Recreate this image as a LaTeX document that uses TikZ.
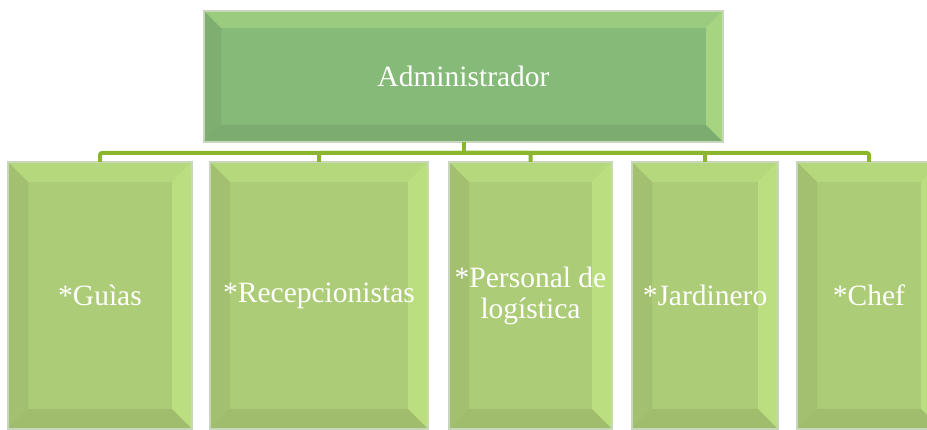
\documentclass[tikz,border=0pt]{standalone}
\usepackage{fontspec}
\setmainfont{Liberation Serif}
\usetikzlibrary{positioning, calc}

\definecolor{topgreen}{RGB}{134,186,120}
\definecolor{boxgreen}{RGB}{173,204,119}
\definecolor{linegreen}{RGB}{140,182,46}
\definecolor{rimgreen}{RGB}{200,214,188}
\definecolor{shinegreen}{RGB}{205,245,140}

\begin{document}
\begin{tikzpicture}[x=1pt, y=1pt,
		bevel/.style={path picture={
				\coordinate (bvSW) at (path picture bounding box.south west);
				\coordinate (bvNE) at (path picture bounding box.north east);
				\coordinate (bvNW) at (path picture bounding box.north west);
				\coordinate (bvSE) at (path picture bounding box.south east);
				\fill[shinegreen, opacity=0.3] (bvNW) -- (bvNE) -- ($(bvNE)+(-#1,-#1)$) -- ($(bvNW)+(#1,-#1)$) -- cycle;
				\fill[black, opacity=0.06] (bvNW) -- ($(bvNW)+(#1,-#1)$) -- ($(bvSW)+(#1,#1)$) -- (bvSW) -- cycle;
				\fill[shinegreen, opacity=0.45] (bvNE) -- ($(bvNE)+(-#1,-#1)$) -- ($(bvSE)+(-#1,#1)$) -- (bvSE) -- cycle;
				\fill[black, opacity=0.07] (bvSW) -- ($(bvSW)+(#1,#1)$) -- ($(bvSE)+(-#1,#1)$) -- (bvSE) -- cycle;
		}},
		headbox/.style={draw=rimgreen, line width=1.5pt, fill=topgreen, bevel=17,
			minimum width=519, minimum height=131, inner sep=0pt, outer sep=0pt,
			text=white, font=\fontsize{29.5}{31}\selectfont},
		staffbox/.style={draw=rimgreen, line width=1.5pt, fill=boxgreen, bevel=20,
			minimum height=267, inner sep=0pt, outer sep=0pt, align=center,
			text=white, font=\fontsize{29.5}{31}\selectfont},
		conn/.style={draw=linegreen, line width=4pt, rounded corners=2pt},
		]
		\useasboundingbox (0,0) rectangle (927,430);
		
		\node[headbox] (admin) at (463.5,353.5) {Administrador};
		
		\node[staffbox, minimum width=184] (guias)  at (100,134.5)   {*Guìas};
		\node[staffbox, minimum width=218] (recep)  at (319,134.5)   {*Recepcionistas};
		\node[staffbox, minimum width=163] (logist) at (530.5,134.5) {*Personal~de\\logística};
		\node[staffbox, minimum width=146] (jardin) at (705,134.5)   {*Jardinero};
		\node[staffbox, minimum width=144] (chef)   at (869,134.5)   {*Chef};
		
		% lineas del organigrama
		\coordinate (bus) at ($(admin.south)+(0,-11)$);
		\draw[conn] (admin.south) -- (bus);
		\foreach \n in {guias, recep, logist, jardin, chef}
		\draw[conn] (bus) -| (\n.north);
		
	\end{tikzpicture}
\end{document}
